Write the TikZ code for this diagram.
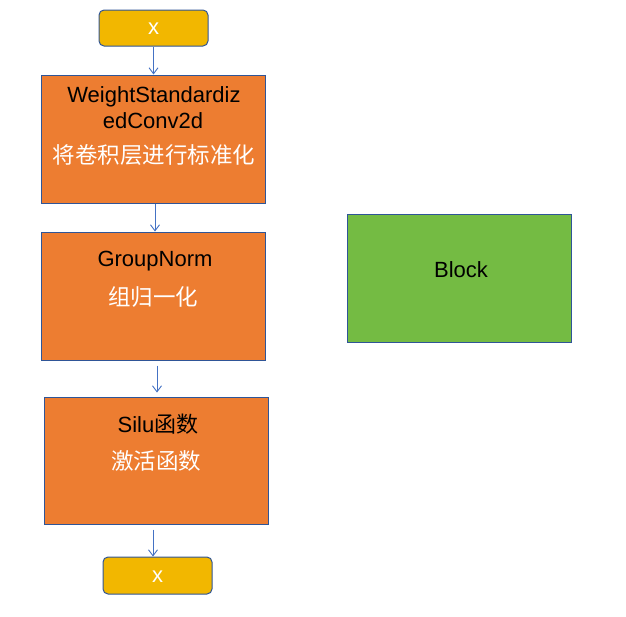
\documentclass[tikz,border=0pt]{standalone}
\usepackage{fontspec}
\setmainfont{Liberation Sans}
\newfontfamily\cjk{Noto Sans CJK SC}
\usetikzlibrary{arrows.meta}
\definecolor{orangefill}{HTML}{ED7D31}
\definecolor{goldfill}{HTML}{F2B700}
\definecolor{greenfill}{HTML}{74BB43}
\definecolor{edgeblue}{HTML}{2F5597}
\definecolor{arrowblue}{HTML}{4472C4}
\tikzset{
  box/.style={draw=edgeblue, line width=1pt, inner sep=0pt},
  procbox/.style={box, fill=orangefill},
  iobox/.style={box, fill=goldfill, rounded corners=5pt},
  blockbox/.style={box, fill=greenfill},
  latin/.style={font=\fontsize{22}{26}\selectfont, text=black, inner sep=0pt},
  cjkwhite/.style={font=\cjk\fontsize{22.5}{27}\selectfont, text=white, inner sep=0pt},
  xlabel/.style={font=\fontsize{22}{26}\selectfont, text=white, inner sep=0pt},
  arr/.style={draw=arrowblue, line width=0.9pt, -{Straight Barb[length=6pt,width=9pt]}}
}
\begin{document}
\begin{tikzpicture}[x=1pt,y=-1pt]
\useasboundingbox (0,0) rectangle (626,616);
% boxes
\node[iobox, minimum width=109pt, minimum height=36pt] (xin) at (153.5,28) {};
\node[procbox, minimum width=224pt, minimum height=128pt] (ws) at (153,139) {};
\node[procbox, minimum width=224pt, minimum height=128pt] (gn) at (153,296) {};
\node[procbox, minimum width=224pt, minimum height=127pt] (silu) at (156,460.5) {};
\node[iobox, minimum width=109pt, minimum height=37pt] (xout) at (157.5,575.5) {};
\node[blockbox, minimum width=224pt, minimum height=128pt] (block) at (459,278) {};
% texts
\node[xlabel] (xint) at (153.5,29) {x};
\node[xlabel] (xoutt) at (157.5,577) {x};
\node[latin, anchor=base] (wst1) at (154,102) {WeightStandardiz};
\node[latin, anchor=base] (wst2) at (153,128) {edConv2d};
\node[cjkwhite] (wst3) at (154,155) {将卷积层进行标准化};
\node[latin, anchor=base] (gnt1) at (155,266) {GroupNorm};
\node[cjkwhite] (gnt2) at (153,297) {组归一化};
\node[latin, anchor=base] (silut1) at (158,432) {Silu{\cjk 函数}};
\node[cjkwhite] (silut2) at (156,461) {激活函数};
\node[latin, anchor=base] (blockt) at (461,277) {Block};
% arrows
\draw[arr] (xin.south) -- (xin.south |- ws.north);
\draw[arr] ([xshift=2pt]ws.south) -- ([xshift=2pt]gn.north);
\draw[arr, shorten <=5pt, shorten >=4pt] ([xshift=4pt]gn.south) -- ([xshift=4pt]gn.south |- silu.north);
\draw[arr, shorten <=5pt] ([xshift=-3pt]silu.south) -- ([xshift=-3pt]silu.south |- xout.north);
\end{tikzpicture}
\end{document}
